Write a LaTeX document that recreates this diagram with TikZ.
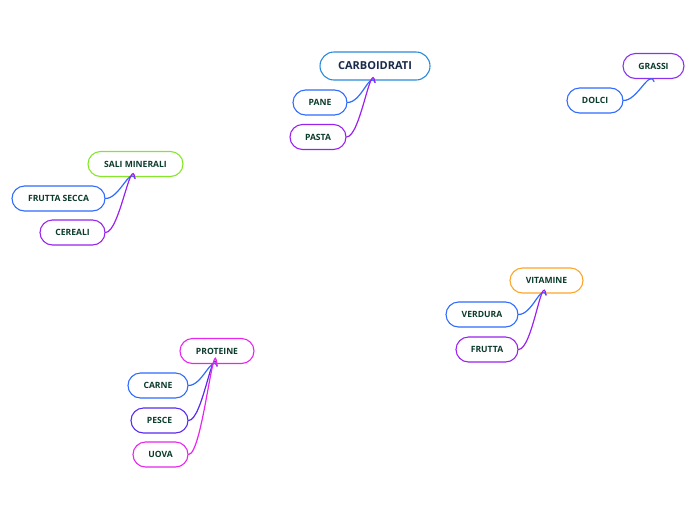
\documentclass[tikz,border=0pt]{standalone}
\usepackage{fontspec}
\setmainfont{Open Sans}
\definecolor{txt}{HTML}{0B3B2C}
\definecolor{navy}{HTML}{1A2A4A}
\definecolor{cblue}{HTML}{2F6BFF}
\definecolor{cpurple}{HTML}{9A22EE}
\definecolor{cviolet}{HTML}{5A2BEE}
\definecolor{cmag}{HTML}{E626EE}
\definecolor{corange}{HTML}{FFA526}
\definecolor{cgreen}{HTML}{86E62A}
\definecolor{ccyan}{HTML}{2A8BDB}
\definecolor{cgrape}{HTML}{8A33EE}
\tikzset{
  topic/.style={draw=#1, line width=1.1pt, fill=white, rounded corners=12.5pt,
    minimum height=25pt, inner sep=0pt, font=\bfseries\fontsize{8.6}{10}\selectfont, text=txt},
  central/.style={draw=#1, line width=1.1pt, fill=white, rounded corners=14pt,
    minimum height=28pt, inner sep=0pt, font=\bfseries\fontsize{11}{13}\selectfont, text=navy},
  link/.style={draw=#1, line width=1.2pt, line cap=round}
}
\begin{document}
\begin{tikzpicture}[x=1pt,y=-1pt]
\useasboundingbox (0,0) rectangle (696,520);
% CARBOIDRATI
\node[central=ccyan, minimum width=110pt] (carb) at (375,66) {CARBOIDRATI};
\node[topic=cblue, minimum width=54pt] (pane) at (320,102.5) {PANE};
\node[topic=cpurple, minimum width=56pt] (pasta) at (318,137) {PASTA};
\coordinate (carbp) at (375,82.5);
\draw[link=cblue] (pane.east) .. controls +(14,0) and +(-5,-12) .. (carbp);
\draw[link=cpurple] (pasta.east) .. controls +(14,0) and +(-4,-25) .. (carbp);
% GRASSI
\node[topic=cgrape, minimum width=61pt] (grassi) at (653.5,66) {GRASSI};
\node[topic=cblue, minimum width=56pt] (dolci) at (595,100.5) {DOLCI};
\coordinate (grassip) at (654,81.5);
\draw[link=cblue] (dolci.east) .. controls +(14,0) and +(-5,-12) .. (grassip);
% SALI MINERALI
\node[topic=cgreen, minimum width=95pt] (sali) at (135.5,164) {SALI MINERALI};
\node[topic=cblue, minimum width=93pt] (frutsec) at (58.5,198.5) {FRUTTA SECCA};
\node[topic=cpurple, minimum width=65pt] (cereali) at (72.5,232.5) {CEREALI};
\coordinate (salip) at (135,178.5);
\draw[link=cblue] (frutsec.east) .. controls +(14,0) and +(-5,-12) .. (salip);
\draw[link=cpurple] (cereali.east) .. controls +(14,0) and +(-4,-25) .. (salip);
% VITAMINE
\node[topic=corange, minimum width=73pt] (vit) at (546.5,280.5) {VITAMINE};
\node[topic=cblue, minimum width=72pt] (verdura) at (482,314.5) {VERDURA};
\node[topic=cpurple, minimum width=62pt] (frutta) at (487,349.5) {FRUTTA};
\coordinate (vitp) at (546,295);
\draw[link=cblue] (verdura.east) .. controls +(14,0) and +(-5,-12) .. (vitp);
\draw[link=cpurple] (frutta.east) .. controls +(14,0) and +(-4,-25) .. (vitp);
% PROTEINE
\node[topic=cmag, minimum width=74pt] (prot) at (217,351) {PROTEINE};
\node[topic=cblue, minimum width=60pt] (carne) at (158,385.5) {CARNE};
\node[topic=cviolet, minimum width=57pt] (pesce) at (159.5,420.5) {PESCE};
\node[topic=cmag, minimum width=55pt] (uova) at (160.5,454.5) {UOVA};
\coordinate (protp) at (217,366);
\draw[link=cblue] (carne.east) .. controls +(14,0) and +(-5,-12) .. (protp);
\draw[link=cviolet] (pesce.east) .. controls +(14,0) and +(-4,-25) .. (protp);
\draw[link=cmag] (uova.east) .. controls +(14,0) and +(-3,-40) .. (protp);
\end{tikzpicture}
\end{document}
